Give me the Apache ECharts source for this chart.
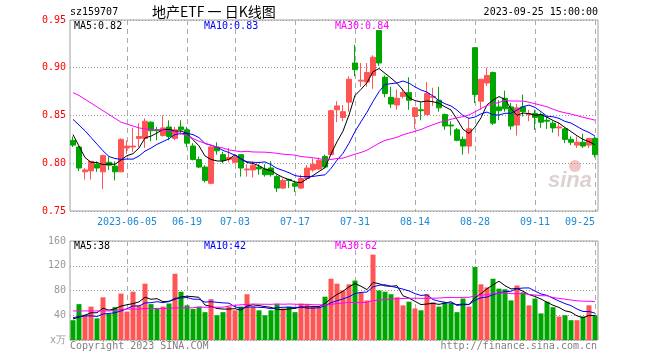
<!DOCTYPE html>
<html><head><meta charset="utf-8">
<script src="https://cdn.jsdelivr.net/npm/echarts@6/dist/echarts.min.js"></script>
<style>html,body{margin:0;padding:0;background:#fff}#c{width:660px;height:360px}</style>
</head><body><div id="c"></div>
<script>
const dates = [
'2023-05-23','2023-05-24','2023-05-25','2023-05-26','2023-05-29','2023-05-30','2023-05-31',
'2023-06-01','2023-06-02','2023-06-05','2023-06-06','2023-06-07','2023-06-08','2023-06-09',
'2023-06-12','2023-06-13','2023-06-14','2023-06-15','2023-06-16','2023-06-19','2023-06-20',
'2023-06-21','2023-06-26','2023-06-27','2023-06-28','2023-06-29','2023-06-30',
'2023-07-03','2023-07-04','2023-07-05','2023-07-06','2023-07-07','2023-07-10','2023-07-11',
'2023-07-12','2023-07-13','2023-07-14','2023-07-17','2023-07-18','2023-07-19','2023-07-20',
'2023-07-21','2023-07-24','2023-07-25','2023-07-26','2023-07-27','2023-07-28','2023-07-31',
'2023-08-01','2023-08-02','2023-08-03','2023-08-04','2023-08-07','2023-08-08','2023-08-09',
'2023-08-10','2023-08-11','2023-08-14','2023-08-15','2023-08-16','2023-08-17','2023-08-18',
'2023-08-21','2023-08-22','2023-08-23','2023-08-24','2023-08-25','2023-08-28','2023-08-29',
'2023-08-30','2023-08-31','2023-09-01','2023-09-04','2023-09-05','2023-09-06','2023-09-07',
'2023-09-08','2023-09-11','2023-09-12','2023-09-13','2023-09-14','2023-09-15','2023-09-18',
'2023-09-19','2023-09-20','2023-09-21','2023-09-22','2023-09-25'];

const labelDates = ['2023-06-05','2023-06-19','2023-07-03','2023-07-17','2023-07-31',
  '2023-08-14','2023-08-28','2023-09-11','2023-09-25'];

const opens = [0.824,0.817,0.791,0.792,0.799,0.791,0.801,0.797,0.791,0.816,
0.817,0.826,0.826,0.843,0.835,0.829,0.838,0.826,0.838,0.835,
0.818,0.804,0.796,0.779,0.817,0.809,0.804,0.801,0.809,0.793,
0.793,0.796,0.794,0.795,0.786,0.774,0.783,0.779,0.774,0.784,
0.793,0.794,0.807,0.809,0.856,0.848,0.864,0.905,0.886,0.885,
0.892,0.939,0.890,0.869,0.861,0.870,0.874,0.849,0.856,0.851,
0.869,0.866,0.851,0.840,0.835,0.825,0.818,0.921,0.865,0.884,
0.895,0.859,0.868,0.859,0.840,0.859,0.851,0.852,0.851,0.845,
0.842,0.837,0.836,0.825,0.819,0.822,0.819,0.826];
const closes = [0.819,0.795,0.793,0.802,0.795,0.808,0.798,0.791,0.825,0.818,
0.818,0.828,0.844,0.834,0.834,0.837,0.828,0.835,0.835,0.821,
0.804,0.796,0.782,0.817,0.813,0.803,0.806,0.806,0.795,0.794,
0.798,0.794,0.788,0.788,0.774,0.782,0.782,0.776,0.784,0.795,
0.799,0.803,0.796,0.855,0.860,0.854,0.888,0.898,0.887,0.895,
0.911,0.905,0.873,0.862,0.868,0.874,0.866,0.858,0.855,0.873,
0.870,0.858,0.839,0.839,0.824,0.818,0.836,0.872,0.888,0.892,
0.842,0.855,0.857,0.839,0.858,0.854,0.852,0.848,0.843,0.844,
0.837,0.838,0.825,0.822,0.822,0.818,0.826,0.809];
const lows = [0.817,0.792,0.783,0.783,0.791,0.773,0.793,0.782,0.791,0.810,
0.812,0.817,0.816,0.823,0.824,0.828,0.824,0.824,0.830,0.817,
0.803,0.795,0.780,0.778,0.809,0.800,0.801,0.800,0.786,0.786,
0.785,0.788,0.786,0.786,0.770,0.773,0.774,0.770,0.773,0.782,
0.791,0.793,0.795,0.809,0.843,0.844,0.854,0.891,0.880,0.880,
0.878,0.902,0.869,0.858,0.856,0.868,0.856,0.836,0.845,0.851,
0.860,0.854,0.835,0.829,0.823,0.809,0.810,0.863,0.856,0.881,
0.840,0.845,0.854,0.835,0.829,0.849,0.844,0.835,0.837,0.836,
0.832,0.828,0.821,0.819,0.816,0.816,0.816,0.806];
const highs = [0.828,0.818,0.795,0.802,0.802,0.809,0.807,0.802,0.826,0.824,
0.837,0.842,0.847,0.844,0.838,0.850,0.845,0.838,0.845,0.838,
0.821,0.807,0.798,0.818,0.822,0.812,0.816,0.808,0.809,0.799,
0.802,0.799,0.799,0.802,0.788,0.784,0.784,0.782,0.788,0.798,
0.805,0.806,0.809,0.856,0.865,0.861,0.891,0.924,0.905,0.905,
0.913,0.939,0.892,0.880,0.877,0.878,0.890,0.859,0.864,0.885,
0.879,0.880,0.852,0.844,0.837,0.828,0.847,0.921,0.888,0.900,
0.896,0.866,0.876,0.863,0.862,0.872,0.856,0.856,0.853,0.849,
0.844,0.842,0.837,0.828,0.828,0.831,0.826,0.828];

const volumes = [32,58,41,54,35,69,42,53,75,46,
78,56,91,58,51,54,59,107,78,56,
50,54,45,66,40,45,54,48,54,74,
54,48,40,48,58,51,54,45,59,58,
54,54,70,99,91,80,90,96,77,64,
138,80,78,74,69,56,62,51,48,74,
61,54,61,59,45,67,54,118,90,85,
99,83,82,64,88,77,56,67,43,62,
53,38,40,32,32,38,56,40];

// moving-average values for bars before a full window exists
const ma5Head = [0.830,0.818,0.806,0.801];
const ma10Head = [0.846,0.840,0.834,0.827,0.820,0.813,0.807,0.805,0.804];
const ma30Head = [0.874,0.871,0.867,0.863,0.859,0.855,0.851,0.847,0.843,0.841,
0.839,0.837,0.836,0.835,0.835,0.835,0.834,0.833,0.831,0.829,
0.826,0.823,0.821,0.819,0.817,0.816,0.814,0.813,0.812];
const vma5Head = [34,37,40,44];
const vma10Head = [36,38,39,39,38,42,43,44,47];
const vma30Head = [47,47,47,47,47,47,47,48,49,50,50,50,51,51,51,51,51,52,52,52,52,53,53,53,53,53,55,56,57];

const priceLegend = ['MA5:0.82','MA10:0.83','MA30:0.84'];
const volLegend = ['MA5:38','MA10:42','MA30:62'];

function movingAvg(vals, head, n, dp) {
  return vals.map((v, i) => {
    if (i < n - 1) return head[i];
    let s = 0;
    for (let k = i - n + 1; k <= i; k++) s += vals[k];
    return +(s / n).toFixed(dp);
  });
}

const RED = '#ff5555', GREEN = '#00a600';
const MONO = 'DejaVu Sans Mono';
const kData = dates.map((d, i) => [opens[i], closes[i], lows[i], highs[i]]);
const volData = volumes.map((v, i) => ({value: v, itemStyle: {color: closes[i] >= opens[i] ? RED : GREEN}}));

const vSplit = {
  show: true,
  interval: (i, v) => labelDates.indexOf(v) >= 0,
  alignWithLabel: true,
  lineStyle: {type: [5, 4], color: '#aaaaaa', width: 1}
};

const lineS = (name, data, color, xi) => ({
  type: 'line', name, data, xAxisIndex: xi, yAxisIndex: xi, symbol: 'none',
  lineStyle: {color, width: 1}, itemStyle: {color}, z: 4, animation: false, silent: true
});

const chart = echarts.init(document.getElementById('c'), null, {renderer: 'canvas'});
chart.setOption({
  animation: false,
  backgroundColor: '#fff',
  grid: [
    {left: 70, right: 62, top: 20, height: 191, show: true, borderColor: '#a0a0a0', borderWidth: 1},
    {left: 70, right: 62, top: 241, height: 99, show: true, borderColor: '#a0a0a0', borderWidth: 1}
  ],
  xAxis: [
    {type: 'category', data: dates, gridIndex: 0, boundaryGap: true,
     axisLine: {show: false}, axisTick: {show: false}, splitLine: vSplit,
     axisLabel: {
       interval: (i, v) => labelDates.indexOf(v) >= 0,
       formatter: (v) => v === labelDates[0] ? v : v.slice(5),
       color: '#1a8ad6', fontFamily: MONO, fontSize: 10, margin: 6,
       alignMaxLabel: 'right'
     }},
    {type: 'category', data: dates, gridIndex: 1, boundaryGap: true,
     axisLine: {show: false}, axisTick: {show: false}, axisLabel: {show: false}, splitLine: vSplit}
  ],
  yAxis: [
    {type: 'value', gridIndex: 0, min: 0.75, max: 0.95, interval: 0.05,
     axisLine: {show: false}, axisTick: {show: false},
     axisLabel: {color: '#ff0000', fontFamily: MONO, fontSize: 10, margin: 4, formatter: v => v.toFixed(2)},
     splitLine: {lineStyle: {type: [1, 2], color: '#999999', width: 1}}},
    {type: 'value', gridIndex: 1, min: 0, max: 160, interval: 40,
     axisLine: {show: false}, axisTick: {show: false},
     axisLabel: {color: '#999999', fontFamily: MONO, fontSize: 10, margin: 4, formatter: v => v === 0 ? 'x万' : String(v)},
     splitLine: {lineStyle: {type: [1, 2], color: '#999999', width: 1}}}
  ],
  series: [
    {type: 'candlestick', name: 'K', data: kData, xAxisIndex: 0, yAxisIndex: 0, barWidth: 5,
     itemStyle: {color: RED, color0: GREEN, borderColor: RED, borderColor0: GREEN, borderWidth: 1},
     z: 3, silent: true},
    lineS('MA5', movingAvg(closes, ma5Head, 5, 4), '#000000', 0),
    lineS('MA10', movingAvg(closes, ma10Head, 10, 4), '#0000ff', 0),
    lineS('MA30', movingAvg(closes, ma30Head, 30, 4), '#ff00ff', 0),
    {type: 'bar', name: 'VOL', data: volData, xAxisIndex: 1, yAxisIndex: 1, barWidth: 5,
     z: 3, silent: true},
    lineS('VMA5', movingAvg(volumes, vma5Head, 5, 2), '#000000', 1),
    lineS('VMA10', movingAvg(volumes, vma10Head, 10, 2), '#0000ff', 1),
    lineS('VMA30', movingAvg(volumes, vma30Head, 30, 2), '#ff00ff', 1)
  ],
  graphic: [
    {type: 'text', left: 70, top: 7, style: {text: 'sz159707', font: '10px "DejaVu Sans Mono"', fill: '#000'}},
    {type: 'text', left: 152, top: 5, style: {text: '地产ETF 一 日K线图', font: '14px "Noto Sans CJK SC"', fill: '#000'}},
    {type: 'text', right: 62, top: 7, style: {text: '2023-09-25 15:00:00', font: '10px "DejaVu Sans Mono"', fill: '#000'}},
    {type: 'text', left: 74, top: 21, z: 10, style: {text: priceLegend[0], font: '10px "DejaVu Sans Mono"', fill: '#000'}},
    {type: 'text', left: 204, top: 21, z: 10, style: {text: priceLegend[1], font: '10px "DejaVu Sans Mono"', fill: '#0000ff'}},
    {type: 'text', left: 335, top: 21, z: 10, style: {text: priceLegend[2], font: '10px "DejaVu Sans Mono"', fill: '#ff00ff'}},
    {type: 'text', left: 74, top: 241, z: 10, style: {text: volLegend[0], font: '10px "DejaVu Sans Mono"', fill: '#000'}},
    {type: 'text', left: 204, top: 241, z: 10, style: {text: volLegend[1], font: '10px "DejaVu Sans Mono"', fill: '#0000ff'}},
    {type: 'text', left: 335, top: 241, z: 10, style: {text: volLegend[2], font: '10px "DejaVu Sans Mono"', fill: '#ff00ff'}},
    {type: 'text', left: 70, top: 341, style: {text: 'Copyright 2023 SINA.COM', font: '10px "DejaVu Sans Mono"', fill: '#808080'}},
    {type: 'text', right: 63, top: 341, style: {text: 'http://finance.sina.com.cn', font: '10px "DejaVu Sans Mono"', fill: '#808080'}},
    {type: 'text', left: 548, top: 170, z: 0, style: {text: 'sina', font: 'italic bold 22px "Liberation Sans"', fill: '#dcd2d2'}},
    {type: 'circle', shape: {cx: 575, cy: 166, r: 6}, z: 0, style: {fill: '#f3c4c4'}}
  ]
});
</script>
</body></html>
